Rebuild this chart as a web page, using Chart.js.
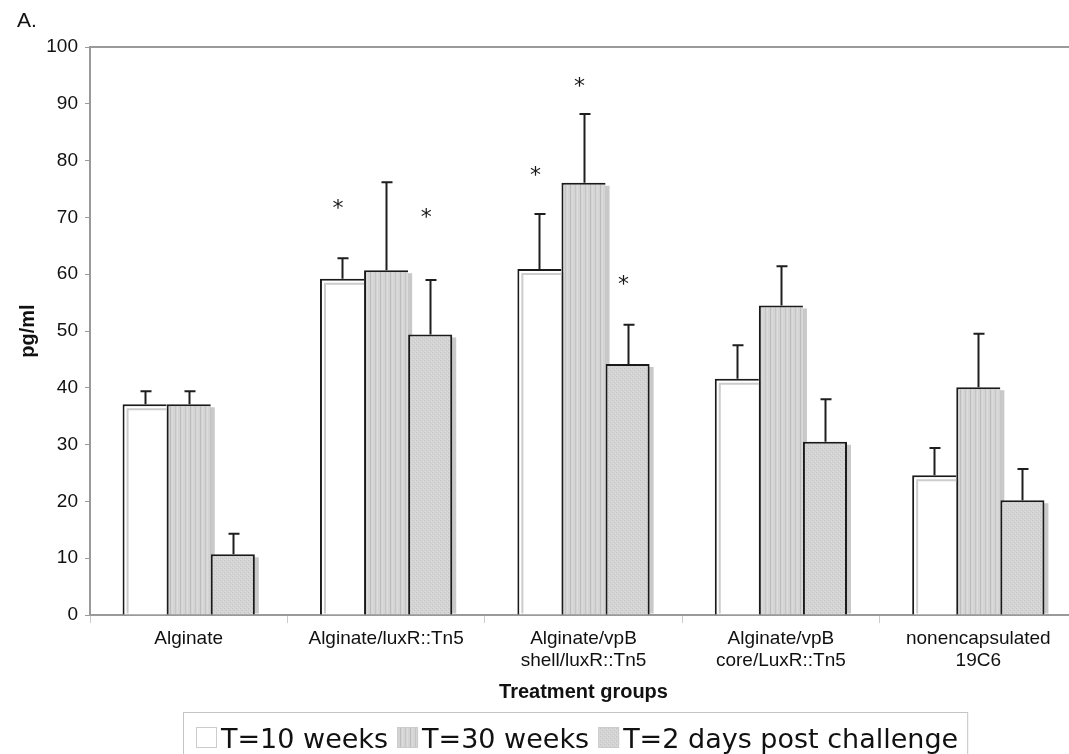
<!DOCTYPE html>
<html><head><meta charset="utf-8">
<script src="https://cdn.jsdelivr.net/npm/chart.js@4"></script>
<style>
html,body{margin:0;padding:0;overflow:hidden;background:#fff;width:1069px;height:754px}
#wrap{position:absolute;left:0;top:0;width:1110px;height:754px}
</style></head>
<body><div id="wrap"><canvas id="c" width="1110" height="754"></canvas></div>
<script>
// ---- data ----
const categories = ['Alginate', 'Alginate/luxR::Tn5', ['Alginate/vpB', 'shell/luxR::Tn5'], ['Alginate/vpB', 'core/LuxR::Tn5'], ['nonencapsulated', '19C6']];
const seriesLabels = ['T=10 weeks', 'T=30 weeks', 'T=2 days post challenge'];
const t10 = [37.1, 59.2, 60.9, 41.6, 24.6];
const t30 = [37.1, 60.7, 76.1, 54.5, 40.1];
const t2d = [10.7, 49.4, 44.2, 30.5, 20.2];
const errT10 = [2.3, 3.6, 9.7, 5.9, 4.8];
const errT30 = [2.3, 15.5, 12.1, 6.9, 9.4];
const errT2d = [3.6, 9.6, 6.9, 7.5, 5.5];
const starT10 = [null, 72.7, 78.5, null, null];
const starT30 = [null, null, 94.2, null, null];
const starT2d = [null, 71.1, 59.3, null, null];
const yTicks = [0, 10, 20, 30, 40, 50, 60, 70, 80, 90, 100];
const yTitle = 'pg/ml';
const xTitle = 'Treatment groups';
const panelLabel = 'A.';

// ---- patterns ----
function makePattern(kind) {
  const c = document.createElement('canvas');
  const g = c.getContext('2d');
  if (kind === 'stripe') {
    c.width = 10; c.height = 4;
    g.fillStyle = '#d4d4d4'; g.fillRect(0, 0, 10, 4);
    g.fillStyle = '#bcbcbc'; g.fillRect(0, 0, 1, 4);
    g.fillStyle = '#c6c6c6'; g.fillRect(5, 0, 1, 4);
    g.fillStyle = '#dcdcdc'; g.fillRect(2, 0, 1, 4); g.fillRect(7, 0, 1, 4);
  } else {
    c.width = 4; c.height = 4;
    g.fillStyle = '#d4d4d4'; g.fillRect(0, 0, 4, 4);
    g.fillStyle = '#c4c4c4'; g.fillRect(0, 0, 1, 1); g.fillRect(2, 2, 1, 1);
    g.fillStyle = '#dddddd'; g.fillRect(1, 3, 1, 1); g.fillRect(3, 1, 1, 1);
  }
  return g.createPattern(c, 'repeat');
}
const fills = ['#ffffff', makePattern('stripe'), makePattern('dots')];
const errs = [errT10, errT30, errT2d];
const stars = [starT10, starT30, starT2d];

const deco = {
  id: 'deco',
  beforeDatasetsDraw(chart) {
    const ctx = chart.ctx;
    ctx.save();
    ctx.fillStyle = '#c9c9c9';
    chart.data.datasets.forEach((ds, i) => {
      chart.getDatasetMeta(i).data.forEach(bar => {
        const p = bar.getProps(['x', 'y', 'base', 'width'], true);
        ctx.fillRect(p.x - p.width / 2 + 4, p.y + 3, p.width, p.base - p.y - 4);
      });
    });
    ctx.restore();
  },
  afterDatasetsDraw(chart) {
    const ctx = chart.ctx;
    const ys = chart.scales.y;
    ctx.save();
    // inner light line of white bars
    ctx.strokeStyle = '#cccccc'; ctx.lineWidth = 2;
    chart.getDatasetMeta(0).data.forEach(bar => {
      const p = bar.getProps(['x', 'y', 'base', 'width'], true);
      const l = p.x - p.width / 2;
      ctx.beginPath();
      ctx.moveTo(l + 5, p.base - 1);
      ctx.lineTo(l + 5, p.y + 5);
      ctx.lineTo(p.x + p.width / 2, p.y + 5);
      ctx.stroke();
    });
    // error bars
    ctx.strokeStyle = '#1e1e1e'; ctx.lineWidth = 2;
    chart.data.datasets.forEach((ds, i) => {
      chart.getDatasetMeta(i).data.forEach((bar, j) => {
        const p = bar.getProps(['x', 'y'], true);
        const top = ys.getPixelForValue(ds.data[j] + errs[i][j]);
        const x = Math.round(p.x) + 0.5;
        ctx.beginPath();
        ctx.moveTo(x, p.y);
        ctx.lineTo(x, top);
        ctx.moveTo(x - 5, top);
        ctx.lineTo(x + 6, top);
        ctx.stroke();
      });
    });
    // significance stars
    ctx.fillStyle = '#1a1a1a';
    ctx.font = '22px "DejaVu Sans"';
    ctx.textAlign = 'center';
    ctx.textBaseline = 'alphabetic';
    chart.data.datasets.forEach((ds, i) => {
      chart.getDatasetMeta(i).data.forEach((bar, j) => {
        const v = stars[i][j];
        if (v == null) return;
        const p = bar.getProps(['x'], true);
        ctx.fillText('*', p.x - 4, ys.getPixelForValue(v) + 13);
      });
    });
    ctx.restore();
  },
  afterDraw(chart) {
    const ctx = chart.ctx;
    const a = chart.chartArea;
    ctx.save();
    // top frame line
    ctx.strokeStyle = '#9a9a9a'; ctx.lineWidth = 2;
    ctx.beginPath();
    ctx.moveTo(a.left - 1, a.top);
    ctx.lineTo(chart.width, a.top);
    ctx.stroke();
    // panel label
    ctx.fillStyle = '#111';
    ctx.font = '21px "Liberation Sans"';
    ctx.textAlign = 'left'; ctx.textBaseline = 'middle';
    ctx.fillText(panelLabel, 17, 21);
    // legend
    ctx.font = '27px "DejaVu Sans"';
    ctx.textBaseline = 'alphabetic';
    const box = 21, gap = 4, itemGap = 9;
    const widths = seriesLabels.map(t => ctx.measureText(t).width);
    let total = widths.reduce((s, w) => s + box + gap + w, 0) + itemGap * (seriesLabels.length - 1);
    let x = 196;
    ctx.strokeStyle = '#c4c4c4'; ctx.lineWidth = 1;
    ctx.strokeRect(x - 12.5, 712.5, total + 22, 60);
    seriesLabels.forEach((t, i) => {
      ctx.fillStyle = fills[i];
      ctx.fillRect(x, 727, box, box);
      ctx.strokeStyle = '#cccccc';
      ctx.strokeRect(x + 0.5, 727.5, box - 1, box - 1);
      ctx.fillStyle = '#111';
      ctx.fillText(t, x + box + gap, 748);
      x += box + gap + widths[i] + itemGap;
    });
    ctx.restore();
  }
};

const mk = (label, data, i, bw) => ({
  label, data,
  backgroundColor: fills[i],
  borderColor: '#1a1a1a',
  borderWidth: bw,
  borderSkipped: 'bottom',
  categoryPercentage: 0.67,
  barPercentage: 1.0
});

new Chart(document.getElementById('c'), {
  type: 'bar',
  data: {
    labels: categories,
    datasets: [
      mk(seriesLabels[0], t10, 0, {top: 2, left: 2, right: 0, bottom: 0}),
      mk(seriesLabels[1], t30, 1, {top: 2, left: 2, right: 0, bottom: 0}),
      mk(seriesLabels[2], t2d, 2, {top: 2, left: 2, right: 2, bottom: 0})
    ]
  },
  options: {
    responsive: false,
    animation: false,
    layout: {padding: {left: 0, right: 33, top: 47, bottom: 0}},
    plugins: {legend: {display: false}, tooltip: {enabled: false}},
    scales: {
      x: {
        afterFit: s => { s.height = 139; },
        grid: {display: true, drawOnChartArea: false, offset: true, tickLength: 8, color: '#cccccc', lineWidth: 1},
        border: {color: '#9a9a9a', width: 2},
        ticks: {color: '#111', font: {family: 'Liberation Sans', size: 19, lineHeight: 1.15}, padding: 5, maxRotation: 0, autoSkip: false},
        title: {display: true, text: xTitle, color: '#111', font: {family: 'Liberation Sans', size: 20, weight: 'bold', lineHeight: 1.2}, padding: {top: 0, bottom: 50}}
      },
      y: {
        min: 0, max: 100,
        afterFit: s => { s.width = 90; },
        afterBuildTicks: s => { s.ticks = yTicks.map(v => ({value: v})); },
        grid: {display: true, drawOnChartArea: false, tickLength: 5, color: '#9a9a9a', lineWidth: 1},
        border: {color: '#9a9a9a', width: 2},
        ticks: {color: '#111', font: {family: 'Liberation Sans', size: 19}, padding: 7},
        title: {display: true, text: yTitle, color: '#111', font: {family: 'Liberation Sans', size: 20, weight: 'bold', lineHeight: 1.2}, padding: {top: 16, bottom: 0}}
      }
    }
  },
  plugins: [deco]
});
</script>
</body></html>
